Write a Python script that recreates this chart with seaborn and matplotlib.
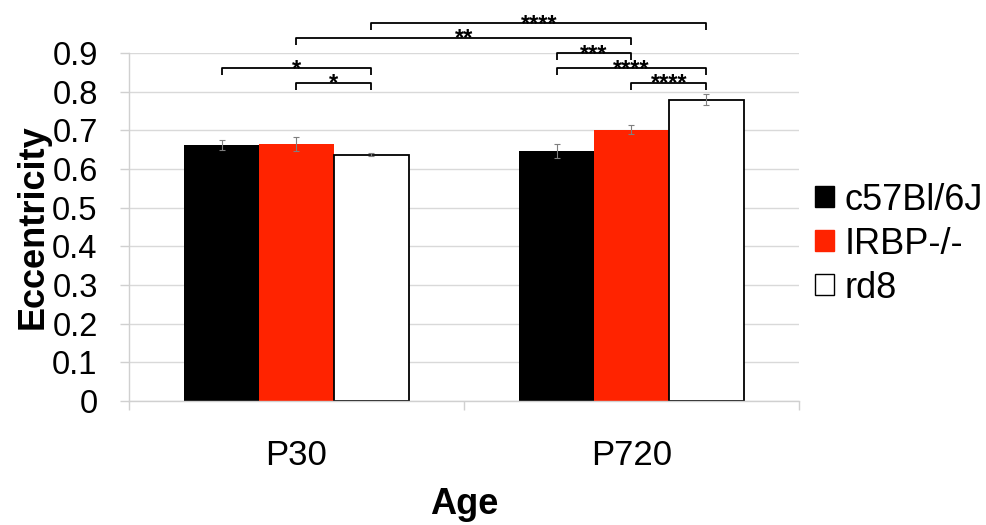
import matplotlib
matplotlib.use('Agg')
import matplotlib.pyplot as plt
import matplotlib.patches as mpatches
import seaborn as sns
import numpy as np
import pandas as pd

sns.set_theme(style='white')
plt.rcParams['font.family'] = ['Liberation Sans', 'DejaVu Sans']
plt.rcParams['text.color'] = 'black'
plt.rcParams['axes.labelcolor'] = 'black'

ages = ['P30', 'P720']
strains = ['c57Bl/6J', 'IRBP-/-', 'rd8']
colors = ['#000000', '#ff2300', '#ffffff']

# mean eccentricity per strain, P30 / P720
c57_mean = [0.662, 0.647]
irbp_mean = [0.665, 0.702]
rd8_mean = [0.637, 0.779]
c57_err = [0.012, 0.019]
irbp_err = [0.019, 0.011]
rd8_err = [0.0045, 0.014]

# significance brackets: (age a, strain a, age b, strain b, level, label)
brackets = [
    (0, 2, 1, 2, 0.977, '****'),
    (0, 1, 1, 1, 0.9395, '**'),
    (1, 0, 1, 1, 0.899, '***'),
    (0, 0, 0, 2, 0.860, '*'),
    (1, 0, 1, 2, 0.860, '****'),
    (0, 1, 0, 2, 0.823, '*'),
    (1, 1, 1, 2, 0.823, '****'),
]

means = [c57_mean, irbp_mean, rd8_mean]
errs = [c57_err, irbp_err, rd8_err]
rows = []
for s, m, e in zip(strains, means, errs):
    for a, v, ev in zip(ages, m, e):
        rows.append({'Age': a, 'Strain': s, 'Eccentricity': v, 'err': ev})
df = pd.DataFrame(rows)

fig = plt.figure(figsize=(9.87, 5.25), dpi=100)
ax = fig.add_axes([129 / 987, 0.236, 670 / 987, 0.663])

sns.barplot(data=df, x='Age', y='Eccentricity', hue='Strain', order=ages,
            hue_order=strains, palette=dict(zip(strains, colors)),
            width=0.67, gap=0, saturation=1, errorbar=None, legend=False, ax=ax)

bar_conts = list(ax.containers)
centers = {}
for hi, cont in enumerate(bar_conts):
    for ai, bar in enumerate(cont):
        if strains[hi] == 'rd8':
            bar.set_edgecolor('black')
            bar.set_linewidth(1.3)
        else:
            bar.set_edgecolor('none')
        xc = bar.get_x() + bar.get_width() / 2
        centers[(ai, hi)] = xc
        ax.errorbar(xc, bar.get_height(), yerr=errs[hi][ai], color='#7f7f7f',
                    linewidth=0.8, capsize=2.5, capthick=0.8, zorder=4)

drop = 0.018
for a1, s1, a2, s2, lev, lab in brackets:
    x1, x2 = centers[(a1, s1)], centers[(a2, s2)]
    ax.plot([x1, x1, x2, x2], [lev - drop, lev, lev, lev - drop], color='black',
            linewidth=1.3, clip_on=False, solid_capstyle='butt', zorder=5)
    ax.annotate(lab, xy=((x1 + x2) / 2, lev), xytext=(0, -5.5),
                textcoords='offset points', ha='center', va='baseline',
                fontsize=17, fontweight='bold', annotation_clip=False)

ax.set_ylim(0, 0.9)
ax.set_xlim(-0.5, 1.5)
ax.set_yticks(np.arange(0, 0.91, 0.1))
ax.set_yticklabels(['0'] + [f'{v:.1f}' for v in np.arange(0.1, 0.91, 0.1)])
ax.yaxis.grid(True, color='#d9d9d9', linewidth=1.0)
ax.set_axisbelow(True)

for side in ['top', 'right']:
    ax.spines[side].set_visible(False)
for side in ['left', 'bottom']:
    ax.spines[side].set_color('#d0d0d0')
    ax.spines[side].set_linewidth(1.0)

ax.tick_params(axis='y', which='major', length=6.5, width=1.0, color='#d0d0d0',
               labelcolor='black', labelsize=23.5, pad=16, left=True)
ax.tick_params(axis='x', which='major', length=0, labelsize=25,
               labelcolor='black', pad=27)
ax.set_xticks([-0.5, 0.5, 1.5], minor=True)
ax.tick_params(axis='x', which='minor', length=6.5, width=1.0, color='#d0d0d0',
               bottom=True)

ax.set_ylabel('Eccentricity', fontsize=26, fontweight='bold', labelpad=1)
ax.set_xlabel('Age', fontsize=26, fontweight='bold', labelpad=11)

handles = [mpatches.Patch(facecolor=c, edgecolor='black' if c == '#ffffff' else c,
                          linewidth=1.0, label=s) for s, c in zip(strains, colors)]
fig.legend(handles=handles, loc='center left', bbox_to_anchor=(815 / 987, 0.535),
           frameon=False, fontsize=26, handlelength=0.52, handleheight=0.52,
           handletextpad=0.3, labelspacing=0.25, borderpad=0, borderaxespad=0)

fig.savefig('out.png', dpi=100)
